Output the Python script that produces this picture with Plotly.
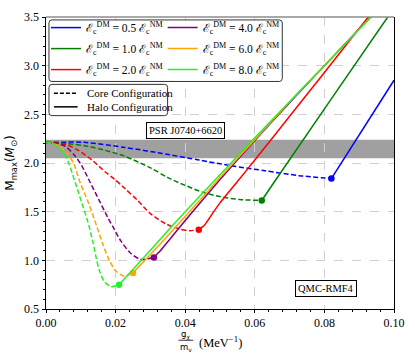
import plotly.graph_objects as go

# ---------------- data ----------------
ratio_labels = ["0.5", "1.0", "2.0", "4.0", "6.0", "8.0"]
colors = ["#0000ff", "#008000", "#ff0000", "#800080", "#ffa500", "#2bee2b"]

core_x_05 = [0, 0.011, 0.0226, 0.0347, 0.044, 0.0536, 0.063, 0.0727, 0.082]
core_y_05 = [2.21, 2.212, 2.16, 2.09, 2.03, 1.97, 1.92, 1.87, 1.84]
halo_x_05 = [0.082, 0.1]
halo_y_05 = [1.84, 2.85]

core_x_10 = [0, 0.006, 0.0122, 0.017, 0.0226, 0.030, 0.035, 0.040, 0.045, 0.050, 0.0556, 0.062]
core_y_10 = [2.21, 2.20, 2.17, 2.13, 2.07, 1.95, 1.85, 1.77, 1.70, 1.655, 1.625, 1.615]
halo_x_10 = [0.062, 0.0655, 0.0982, 0.100]
halo_y_10 = [1.615, 1.80, 3.5, 3.59]

core_x_20 = [0, 0.004, 0.0065, 0.0093, 0.0132, 0.017, 0.0198, 0.0226, 0.0262, 0.030, 0.0347, 0.0385, 0.0413, 0.0439]
core_y_20 = [2.21, 2.20, 2.18, 2.13, 2.03, 1.91, 1.83, 1.74, 1.62, 1.48, 1.37, 1.32, 1.305, 1.315]
halo_x_20 = [0.0439, 0.0455, 0.048, 0.050, 0.055, 0.060, 0.070, 0.080, 0.0926, 0.095]
halo_y_20 = [1.315, 1.36, 1.49, 1.59, 1.81, 2.03, 2.48, 2.93, 3.5, 3.6]

core_x_40 = [0, 0.003, 0.0056, 0.0084, 0.0103, 0.0127, 0.0155, 0.0179, 0.0193, 0.0215, 0.0244, 0.0272, 0.031]
core_y_40 = [2.21, 2.20, 2.17, 2.07, 1.97, 1.80, 1.60, 1.43, 1.34, 1.20, 1.07, 1.01, 1.03]
halo_x_40 = [0.031, 0.0329, 0.035, 0.040, 0.050, 0.060, 0.070, 0.080, 0.0932, 0.096]
halo_y_40 = [1.03, 1.10, 1.19, 1.41, 1.83, 2.23, 2.62, 3.0, 3.5, 3.6]

core_x_60 = [0, 0.002, 0.0036, 0.006, 0.0079, 0.0098, 0.0121, 0.014, 0.0163, 0.0182, 0.0201, 0.0225, 0.025]
core_y_60 = [2.21, 2.20, 2.18, 2.10, 2.0, 1.80, 1.60, 1.41, 1.17, 1.00, 0.89, 0.84, 0.87]
halo_x_60 = [0.025, 0.0329, 0.040, 0.050, 0.060, 0.070, 0.080, 0.0933, 0.096]
halo_y_60 = [0.87, 1.17, 1.45, 1.85, 2.24, 2.63, 3.0, 3.5, 3.6]

core_x_80 = [0, 0.0015, 0.0027, 0.0051, 0.0065, 0.0084, 0.0102, 0.012, 0.0134, 0.0144, 0.0153, 0.0168, 0.0187, 0.021]
core_y_80 = [2.21, 2.20, 2.18, 2.10, 2.0, 1.80, 1.60, 1.40, 1.20, 1.03, 0.90, 0.78, 0.73, 0.75]
halo_x_80 = [0.021, 0.0329, 0.040, 0.050, 0.060, 0.070, 0.080, 0.0934, 0.096]
halo_y_80 = [0.75, 1.22, 1.50, 1.88, 2.26, 2.63, 3.0, 3.5, 3.6]

psr_band = [2.05, 2.24]
x_ticks = [0.00, 0.02, 0.04, 0.06, 0.08, 0.10]
x_tick_labels = ["0.00", "0.02", "0.04", "0.06", "0.08", "0.10"]
y_ticks = [0.5, 1.0, 1.5, 2.0, 2.5, 3.0, 3.5]
y_tick_labels = ["0.5", "1.0", "1.5", "2.0", "2.5", "3.0", "3.5"]

core_x = [core_x_05, core_x_10, core_x_20, core_x_40, core_x_60, core_x_80]
core_y = [core_y_05, core_y_10, core_y_20, core_y_40, core_y_60, core_y_80]
halo_x = [halo_x_05, halo_x_10, halo_x_20, halo_x_40, halo_x_60, halo_x_80]
halo_y = [halo_y_05, halo_y_10, halo_y_20, halo_y_40, halo_y_60, halo_y_80]

# ---------------- layout helpers ----------------
W, H = 415, 359
L, R, T, B = 44, 19, 10, 50
PW, PH = W - L - R, H - T - B
FONT = "Liberation Serif"


def px(xp):
    return (xp - L) / PW


def py(yp):
    return (H - B - yp) / PH


def rounded_box(x0, y0, x1, y1, r=3):
    a, b, c, d = px(x0), py(y1), px(x1), py(y0)
    rx, ry = r / PW, r / PH
    return (f"M {a+rx},{b} L {c-rx},{b} Q {c},{b} {c},{b+ry} L {c},{d-ry} Q {c},{d} {c-rx},{d} "
            f"L {a+rx},{d} Q {a},{d} {a},{d-ry} L {a},{b+ry} Q {a},{b} {a+rx},{b} Z")


fig = go.Figure()

for i in range(6):
    lg = "legend" if i < 3 else "legend3"
    fig.add_trace(go.Scatter(
        x=core_x[i], y=core_y[i], mode="lines",
        line=dict(color=colors[i], width=1.5, dash="5px,2.5px", shape="spline", smoothing=0.8),
        showlegend=False, hoverinfo="skip"))
    fig.add_trace(go.Scatter(
        x=halo_x[i], y=halo_y[i], mode="lines",
        line=dict(color=colors[i], width=1.5, shape="spline", smoothing=0.5),
        name=f"ℰ<sub>c</sub><sup>DM</sup> = {ratio_labels[i]} ℰ<sub>c</sub><sup>NM</sup>",
        legend=lg, legendgroup=f"g{i}", showlegend=True))
    fig.add_trace(go.Scatter(
        x=[halo_x[i][0]], y=[halo_y[i][0]], mode="markers",
        marker=dict(color=colors[i], size=6.5), showlegend=False))

shapes = []
# PSR band
shapes.append(dict(type="rect", xref="paper", yref="y", x0=0, x1=1,
                   y0=psr_band[0], y1=psr_band[1], fillcolor="#a0a0a0",
                   line=dict(width=0), layer="below"))
# top spine (gray)
shapes.append(dict(type="line", xref="paper", yref="paper", x0=0, x1=1, y0=1, y1=1,
                   line=dict(color="#8c8c8c", width=1.5), layer="above"))
# legend boxes
shapes.append(dict(type="path", xref="paper", yref="paper", path=rounded_box(47, 13, 283, 76),
                   fillcolor="white", line=dict(color="#333333", width=1), layer="above"))
shapes.append(dict(type="path", xref="paper", yref="paper", path=rounded_box(47, 79, 167, 111),
                   fillcolor="white", line=dict(color="#333333", width=1), layer="above"))
# style legend samples
shapes.append(dict(type="line", xref="paper", yref="paper", x0=px(52), x1=px(76), y0=py(88), y1=py(88),
                   line=dict(color="black", width=1.5, dash="4px,2px"), layer="above"))
shapes.append(dict(type="line", xref="paper", yref="paper", x0=px(52), x1=px(76), y0=py(102), y1=py(102),
                   line=dict(color="black", width=1.5), layer="above"))
# x-title fraction bar
shapes.append(dict(type="line", xref="paper", yref="paper", x0=px(178), x1=px(193), y0=py(341), y1=py(341),
                   line=dict(color="black", width=0.8), layer="above"))

annotations = [
    dict(x=px(83), y=py(88), xref="paper", yref="paper", text="Core Configuration", showarrow=False,
         xanchor="left", yanchor="middle", font=dict(family=FONT, size=11, color="black")),
    dict(x=px(83), y=py(102), xref="paper", yref="paper", text="Halo Configuration", showarrow=False,
         xanchor="left", yanchor="middle", font=dict(family=FONT, size=11, color="black")),
    dict(x=px(185.5), y=py(126), xref="paper", yref="paper", text="PSR J0740+6620", showarrow=False,
         font=dict(family=FONT, size=10.5, color="black"), bgcolor="white", bordercolor="black",
         borderwidth=1, borderpad=2),
    dict(x=px(358.5), y=py(297), xref="paper", yref="paper", text="QMC-RMF4", showarrow=False,
         font=dict(family=FONT, size=10.5, color="black"), bgcolor="white", bordercolor="black",
         borderwidth=1, borderpad=2),
    dict(x=px(185.5), y=py(335.5), xref="paper", yref="paper", text="g<sub>χ</sub>", showarrow=False,
         font=dict(family="DejaVu Sans", size=8.5, color="black"), yanchor="middle", borderpad=0),
    dict(x=px(185.5), y=py(348.5), xref="paper", yref="paper", text="m<sub>v</sub>", showarrow=False,
         font=dict(family="DejaVu Sans", size=8.5, color="black"), yanchor="middle", borderpad=0),
    dict(x=px(197), y=py(342.5), xref="paper", yref="paper", text="(MeV<sup>−1</sup>)", showarrow=False,
         xanchor="left", yanchor="middle", font=dict(family=FONT, size=12.5, color="black")),
]

axis_common = dict(showline=True, linecolor="black", linewidth=1, ticks="outside",
                   tickwidth=1, tickcolor="black", showgrid=True, gridcolor="#d0d0d0",
                   griddash="dash", gridwidth=1, zeroline=False,
                   tickfont=dict(family=FONT, size=12, color="black"))

fig.update_layout(
    width=W, height=H, margin=dict(l=L, r=R, t=T, b=B),
    plot_bgcolor="white", paper_bgcolor="white",
    font=dict(family=FONT, size=11, color="black"),
    xaxis=dict(range=[0, 0.1], tickmode="array", tickvals=x_ticks, ticktext=x_tick_labels, mirror=False,
               ticklen=2.5,
               minor=dict(dtick=0.004, ticks="outside", ticklen=2, tickcolor="black", showgrid=False),
               **axis_common),
    yaxis=dict(range=[0.5, 3.5], tickmode="array", tickvals=y_ticks, ticktext=y_tick_labels, mirror=True,
               ticklen=3.5,
               minor=dict(dtick=0.1, ticks="outside", ticklen=2, tickcolor="black", showgrid=False),
               title=dict(text="M<sub>max</sub>(<i>M</i><sub>⊙</sub>)", standoff=6,
                          font=dict(family="DejaVu Sans", size=12, color="black")),
               **axis_common),
    legend=dict(x=px(44), y=py(6), xanchor="left", yanchor="top", bgcolor="rgba(0,0,0,0)",
                borderwidth=0, font=dict(family=FONT, size=11.5), itemwidth=30, tracegroupgap=2),
    legend3=dict(x=px(162), y=py(6), xanchor="left", yanchor="top", bgcolor="rgba(0,0,0,0)",
                 borderwidth=0, font=dict(family=FONT, size=11.5), itemwidth=30, tracegroupgap=2),
    shapes=shapes, annotations=annotations,
)

fig.write_html("out.html", config={"displayModeBar": False},
               post_script="document.body.style.margin='0';document.body.style.overflow='hidden';")
